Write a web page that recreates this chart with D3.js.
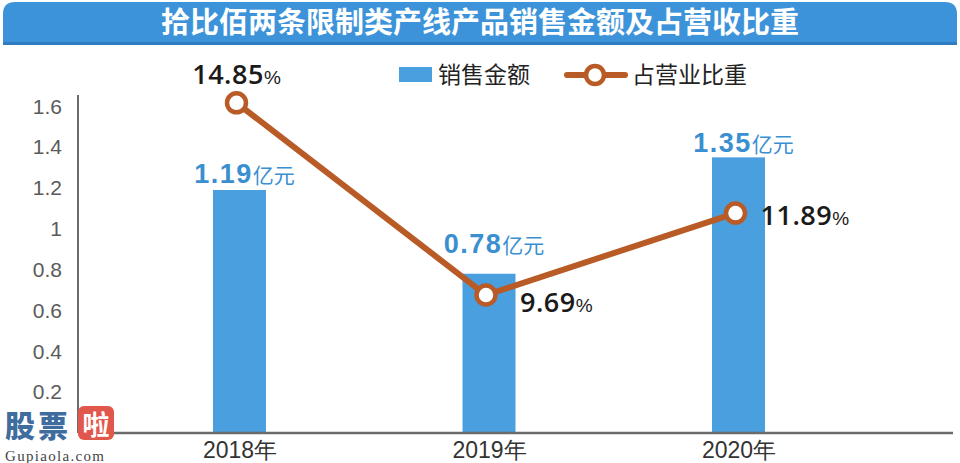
<!DOCTYPE html>
<html><head><meta charset="utf-8">
<script src="https://cdn.jsdelivr.net/npm/d3@7"></script>
<style>
html,body{margin:0;padding:0;background:#fff;}
svg{display:block;}
</style></head>
<body>
<svg id="chart" width="960" height="463"></svg>
<script>
const title = "拾比佰两条限制类产线产品销售金额及占营收比重";
const categories = ["2018年", "2019年", "2020年"];
const salesValues = [1.19, 0.78, 1.35];
const salesLabels = ["1.19", "0.78", "1.35"];
const shareValues = [14.85, 9.69, 11.89];
const shareLabels = ["14.85", "9.69", "11.89"];
const yTicks = [0.2, 0.4, 0.6, 0.8, 1, 1.2, 1.4, 1.6];
const legendNames = ["销售金额", "占营业比重"];

const W = 960, H = 463;
const blue = "#4a9fdf", blueText = "#3a8fd0", brown = "#b95b26";
const svg = d3.select("#chart");

// title bar
const tb = svg.append("g");
tb.append("path")
  .attr("d", "M3,44 L3,14 Q3,2 15,2 L945,2 Q957,2 957,14 L957,44 Z")
  .attr("fill", "#3d93d9");
tb.append("rect").attr("x", 3).attr("y", 42).attr("width", 954).attr("height", 3).attr("fill", "#2f7cc0");
tb.append("text").attr("x", 480).attr("y", 33).attr("text-anchor", "middle")
  .attr("fill", "#fff").attr("font-family", "Noto Sans CJK SC").attr("font-weight", 700)
  .attr("font-size", 29).text(title);

const x = d3.scalePoint().domain(categories).range([114.75, 863.25]).padding(0.5);
const y = d3.scaleLinear().domain([0, 1.6]).range([433, 106.3]);
const y2 = d3.scaleLinear().domain([8, 16]).range([358, 60]);
const barW = 53;

// y axis
const ya = svg.append("g").attr("transform", "translate(78,0)")
  .call(d3.axisLeft(y).tickValues(yTicks).tickSize(0).tickPadding(16).tickFormat(d => String(d)));
ya.select(".domain").remove();
ya.selectAll("text").attr("font-family", "Liberation Sans").attr("font-size", 21).attr("fill", "#5a5a5a");
svg.append("line").attr("x1", 78).attr("x2", 78).attr("y1", 95).attr("y2", 433)
  .attr("stroke", "#6b6b6b").attr("stroke-width", 2);

// bars
svg.selectAll("rect.bar").data(salesValues).join("rect").attr("class", "bar")
  .attr("x", (d, i) => x(categories[i]) - barW / 2)
  .attr("y", d => y(d)).attr("width", barW).attr("height", d => y(0) - y(d))
  .attr("fill", blue);

// x axis
const xa = svg.append("g").attr("transform", "translate(0,433)")
  .call(d3.axisBottom(x).tickSize(0).tickPadding(9));
xa.select(".domain").remove();
xa.selectAll("text").attr("font-family", "Liberation Sans Narrow, Liberation Sans").attr("font-size", 23)
  .attr("fill", "#333").attr("dy", "0.71em");
svg.append("line").attr("x1", 78).attr("x2", 953).attr("y1", 433).attr("y2", 433)
  .attr("stroke", "#6b6b6b").attr("stroke-width", 2.5);

// bar labels
const barDy = [-7, -21, -5];
const bl = svg.selectAll("text.bl").data(salesValues).join("text").attr("class", "bl")
  .attr("x", (d, i) => x(categories[i]) + 5)
  .attr("y", (d, i) => y(d) + barDy[i])
  .attr("text-anchor", "middle").attr("fill", blueText);
bl.append("tspan").attr("font-family", "Liberation Sans").attr("font-weight", 700)
  .attr("font-size", 27).attr("letter-spacing", 1.5).text((d, i) => salesLabels[i]);
bl.append("tspan").attr("font-family", "Noto Sans CJK SC").attr("font-size", 21).text("亿元");

// line
const pts = shareValues.map((v, i) => [x(categories[i]) - 3, y2(v)]);
svg.append("path").attr("d", d3.line()(pts)).attr("fill", "none")
  .attr("stroke", brown).attr("stroke-width", 6).attr("stroke-linejoin", "round");
svg.selectAll("circle.pt").data(pts).join("circle").attr("class", "pt")
  .attr("cx", d => d[0]).attr("cy", d => d[1]).attr("r", 9.5)
  .attr("fill", "#fff").attr("stroke", brown).attr("stroke-width", 4.5);

// share labels
const shPos = [{dx: 0, dy: -19, a: "middle"}, {dx: 34, dy: 17, a: "start"}, {dx: 25, dy: 12, a: "start"}];
const sl = svg.selectAll("text.sl").data(pts).join("text").attr("class", "sl")
  .attr("x", (d, i) => d[0] + shPos[i].dx).attr("y", (d, i) => d[1] + shPos[i].dy)
  .attr("text-anchor", (d, i) => shPos[i].a).attr("fill", "#1a1a1a");
sl.append("tspan").attr("font-family", "Open Sans").attr("font-weight", 600)
  .attr("font-size", 27).attr("letter-spacing", 0.5).text((d, i) => shareLabels[i]);
sl.append("tspan").attr("font-family", "Liberation Sans").attr("font-size", 19).text("%");

// legend
const lg = svg.append("g");
lg.append("rect").attr("x", 399).attr("y", 67).attr("width", 33).attr("height", 15).attr("fill", blue);
lg.append("text").attr("x", 438).attr("y", 83).attr("font-family", "Noto Sans CJK SC")
  .attr("font-size", 23).attr("fill", "#222").text(legendNames[0]);
lg.append("line").attr("x1", 567).attr("x2", 625).attr("y1", 75).attr("y2", 75)
  .attr("stroke", brown).attr("stroke-width", 6).attr("stroke-linecap", "round");
lg.append("circle").attr("cx", 595).attr("cy", 75).attr("r", 9)
  .attr("fill", "#fff").attr("stroke", brown).attr("stroke-width", 4.5);
lg.append("text").attr("x", 632).attr("y", 83).attr("font-family", "Noto Sans CJK SC")
  .attr("font-size", 23).attr("fill", "#222").text(legendNames[1]);

// watermark
const wm = svg.append("g");
wm.append("text").attr("x", 5).attr("y", 437).attr("font-family", "Noto Sans CJK SC").attr("font-weight", 900)
  .attr("font-size", 30).attr("fill", "#3f6d9e").attr("letter-spacing", 3).text("股票");
wm.append("rect").attr("x", 78).attr("y", 406).attr("width", 36).attr("height", 34).attr("rx", 6).attr("fill", "#e2574c");
wm.append("text").attr("x", 96).attr("y", 435).attr("text-anchor", "middle").attr("font-family", "Noto Sans CJK SC")
  .attr("font-weight", 700).attr("font-size", 27).attr("fill", "#fff").text("啦");
wm.append("text").attr("x", 5).attr("y", 461).attr("font-family", "Liberation Serif")
  .attr("font-size", 15).attr("fill", "#444").attr("letter-spacing", 1.3).text("Gupiaola.com");
</script>
</body></html>
